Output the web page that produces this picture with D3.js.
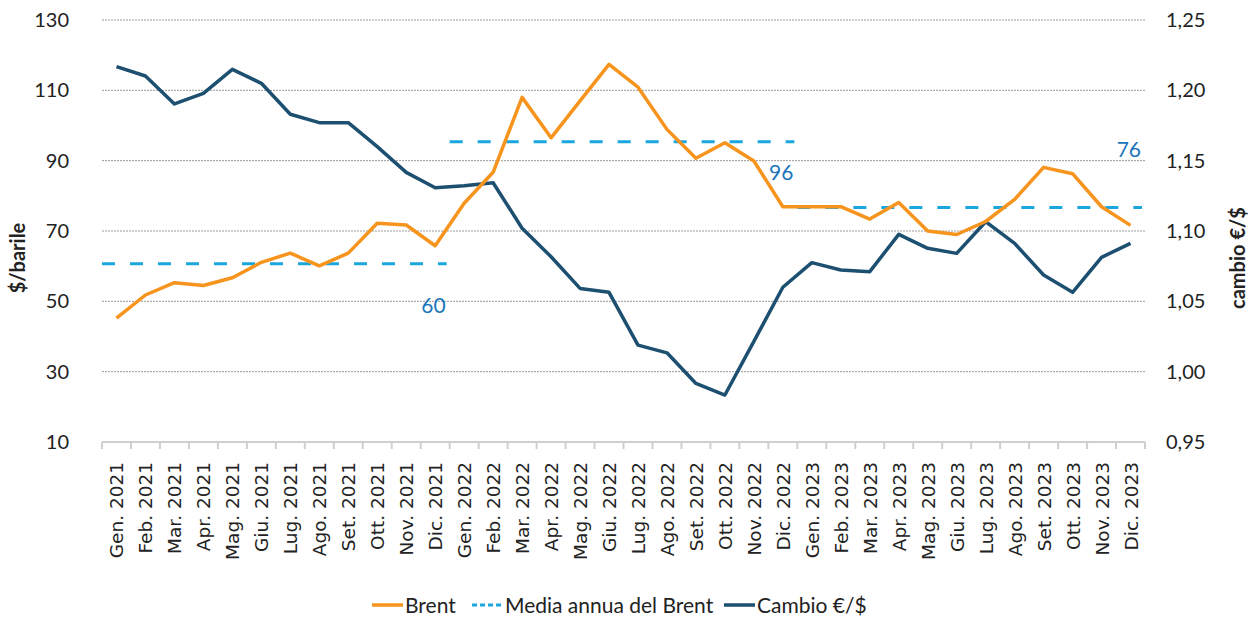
<!DOCTYPE html>
<html><head><meta charset="utf-8">
<script src="https://cdn.jsdelivr.net/npm/d3@7"></script>
<style>
html,body{margin:0;padding:0;background:#fff;}
svg text{font-family:Lato, "Noto Sans", sans-serif;fill:#222;}
</style></head>
<body><svg id="c" width="1256" height="623"></svg>
<script>
const months = ["Gen.","Feb.","Mar.","Apr.","Mag.","Giu.","Lug.","Ago.","Set.","Ott.","Nov.","Dic."];
const years = ["2021","2022","2023"];
const categories = years.flatMap(y => months.map(m => m + " " + y));
const brent = [45.2,51.8,55.3,54.5,56.7,61.1,63.7,60.1,63.7,72.2,71.7,65.8,
  77.9,86.7,108.0,96.5,107.0,117.4,110.9,98.9,90.7,95.1,89.9,76.9,
  76.9,76.9,73.4,78.1,70.0,69.0,72.7,79.0,88.1,86.3,76.9,71.6];
const cambio = [1.2168,1.2102,1.1903,1.1979,1.2149,1.2050,1.1830,1.1770,1.1770,1.1600,1.1417,1.1308,
  1.1322,1.1343,1.1020,1.0817,1.0592,1.0564,1.0189,1.0134,0.9916,0.9834,1.0215,1.0600,
  1.0775,1.0723,1.0711,1.0976,1.0877,1.0841,1.1066,1.0912,1.0687,1.0564,1.0813,1.0912];
const meanValues = [60.7, 95.4, 76.7];
const meanLabels = ["60", "96", "76"];
const leftTicks = [10,30,50,70,90,110,130];
const rightTicks = [0.95,1.00,1.05,1.10,1.15,1.20,1.25];
const legendLabels = ["Brent","Media annua del Brent","Cambio €/$"];

const colBrent = "#F7941D", colMean = "#1BA6DD", colCambio = "#1D4F70", colLabel = "#1B75BB";

const svg = d3.select("#c");
const L = 102, R = 1145, T = 20, B = 442;
const x = d3.scaleBand().domain(categories).range([L, R]);
const yL = d3.scaleLinear().domain([10,130]).range([B, T]);
const yR = d3.scaleLinear().domain([0.95,1.25]).range([B, T]);
const cx = c => x(c) + x.bandwidth()/2;

// gridlines
svg.append("g").selectAll("line").data(leftTicks.filter(t => t > 10)).join("line")
  .attr("x1", L).attr("x2", R).attr("y1", d => yL(d)).attr("y2", d => yL(d))
  .attr("stroke", "#9a9a9a").attr("stroke-width", 1).attr("stroke-dasharray", "2,1");

// left axis
const gL = svg.append("g").attr("transform", `translate(${L - 33},0)`)
  .call(d3.axisLeft(yL).tickValues(leftTicks).tickSize(0).tickPadding(0));
gL.select(".domain").remove();
gL.selectAll("text").attr("font-size", 20).attr("fill", "#222").style("font-family","Lato");

// right axis
const gR = svg.append("g").attr("transform", `translate(${R + 21},0)`)
  .call(d3.axisRight(yR).tickValues(rightTicks).tickSize(0).tickPadding(0)
    .tickFormat(d => d3.format(".2f")(d).replace(".", ",")));
gR.select(".domain").remove();
gR.selectAll("text").attr("font-size", 20).attr("fill", "#222").style("font-family","Lato");

// x axis
const gX = svg.append("g").attr("transform", `translate(0,${B})`);
gX.append("line").attr("x1", L).attr("x2", R).attr("stroke", "#cfcfcf").attr("stroke-width", 2);
gX.selectAll("line.tk").data(categories.concat(["__end"])).join("line").attr("class","tk")
  .attr("x1", (d,i) => L + i*x.step()).attr("x2", (d,i) => L + i*x.step())
  .attr("y1", 0).attr("y2", 7).attr("stroke", "#cfcfcf").attr("stroke-width", 2);
gX.selectAll("text").data(categories).join("text")
  .attr("transform", d => `translate(${cx(d) + 7},20) rotate(-90)`)
  .attr("text-anchor", "end").attr("font-size", 18.5).style("font-family", "'DejaVu Sans'").text(d => d);

// axis titles
svg.append("text").attr("transform", `translate(25,258) rotate(-90)`).attr("text-anchor","middle")
  .attr("font-size", 20).attr("font-weight", "bold").text("$/barile");
svg.append("text").attr("transform", `translate(1245,258) rotate(-90)`).attr("text-anchor","middle")
  .attr("font-size", 20).attr("font-weight", "bold").text("cambio €/$");

// mean lines
years.forEach((yr, i) => {
  const x0 = L + i*12*x.step(), x1 = L + (i+1)*12*x.step();
  svg.append("line").attr("x1", x0).attr("x2", x1 - 3).attr("y1", yL(meanValues[i])).attr("y2", yL(meanValues[i]))
    .attr("stroke", colMean).attr("stroke-width", 3).attr("stroke-dasharray", "13,15");
});
// mean labels
const labDy = [49, 38, -50];
meanLabels.forEach((t, i) => {
  const x1 = L + (i+1)*12*x.step();
  svg.append("text").attr("x", x1 - 4).attr("y", yL(meanValues[i]) + labDy[i])
    .attr("text-anchor","end").attr("font-size", 21).style("fill", colLabel).text(t);
});

// lines
const lineL = d3.line().x((d,i) => cx(categories[i])).y(d => yL(d));
const lineR = d3.line().x((d,i) => cx(categories[i])).y(d => yR(d));
svg.append("path").datum(cambio).attr("d", lineR).attr("fill","none").attr("stroke", colCambio).attr("stroke-width", 3.5).attr("stroke-linejoin","round");
svg.append("path").datum(brent).attr("d", lineL).attr("fill","none").attr("stroke", colBrent).attr("stroke-width", 3.5).attr("stroke-linejoin","round");

// legend
const lg = svg.append("g").attr("transform", "translate(0,610)");
const items = [
  {x: 372, col: colBrent, dash: null, w: 3.5},
  {x: 472, col: colMean, dash: "5,3", w: 3},
  {x: 724, col: colCambio, dash: null, w: 3.5}
];
items.forEach((it, i) => {
  lg.append("line").attr("x1", it.x).attr("x2", it.x + 31).attr("y1", -5).attr("y2", -5)
    .attr("stroke", it.col).attr("stroke-width", it.w).attr("stroke-dasharray", it.dash);
  lg.append("text").attr("x", it.x + 33).attr("y", 3).attr("font-size", 21).text(legendLabels[i]);
});
</script></body></html>
